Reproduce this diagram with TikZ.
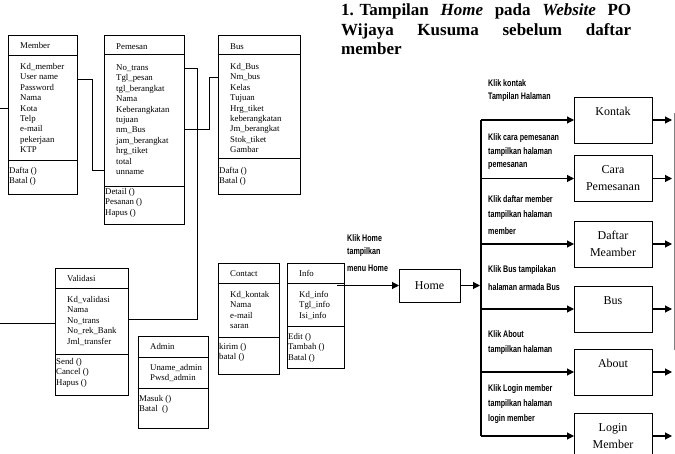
\documentclass[tikz,border=0pt]{standalone}
\usepackage{fontspec}
\usepackage{graphicx}
\setmainfont{Liberation Serif}
\newfontfamily\condfont{Liberation Sans}
\usetikzlibrary{arrows.meta,calc}

\newcommand\cl[1]{\scalebox{0.75}[1]{#1}}

\tikzset{
  classbox/.style={draw, line width=0.8pt, inner sep=0pt, outer sep=0pt},
  classline/.style={line width=0.8pt},
  classtxt/.style={inner sep=0pt, font=\fontsize{8.8}{10.4}\selectfont},
  conn/.style={line width=0.8pt},
  arr/.style={line width=1.1pt, -{Triangle[length=7pt,width=7pt]}},
  pagebox/.style={draw, line width=0.9pt, minimum width=78pt, minimum height=46pt, inner sep=0pt, outer sep=0pt, align=center, font=\fontsize{12}{17}\selectfont},
  lbl/.style={anchor=west, inner sep=0pt, font=\condfont\bfseries\fontsize{9.5}{11}\selectfont},
  ttl/.style={anchor=base west, inner sep=0pt, font=\bfseries\fontsize{17}{20}\selectfont}
}

\newcommand\umlframe[7]{%
  \def\un{#1}\def\ul{#2}%
  \node[classbox, minimum width={#4pt-#2pt}, minimum height={#5pt-#3pt}, anchor=north west] (#1) at (#2,#3) {};
  \draw[classline] (#2,#6) -- (#4,#6);
  \draw[classline] (#2,#7) -- (#4,#7);
}
\newcommand\umltext[6]{%
  \node[classtxt, anchor=base west] (\un-t) at (\ul+12, #1+2.5) {#4};
  \foreach \t [count=\i from 0] in {#5}
    \node[classtxt, anchor=base west] (\un-a\i) at (\ul+12, #2+2.5+\i*10.4) {\t};
  \foreach \t [count=\i from 0] in {#6}
    \node[classtxt, anchor=base west] (\un-m\i) at (\ul+1, #3+2.5+\i*10.4) {\t};
}

\begin{document}
\begin{tikzpicture}[x=1pt,y=-1pt]
\useasboundingbox (0,0) rectangle (675,454);

% ---------- Title ----------
\node[ttl] (t1) at (341,16) {\makebox[290pt][s]{\mbox{1. Tampilan} \textit{Home} pada \textit{Website} PO}};
\node[ttl] (t2) at (341,36) {\makebox[290pt][s]{Wijaya Kusuma sebelum daftar}};
\node[ttl] (t3) at (341,55) {member};

% ---------- Classes ----------
\umlframe{member}{8}{35}{77}{194}{55}{160}
\umltext{46}{67}{171}{Member}{Kd\_member,User name,Password,Nama,Kota,Telp,e-mail,pekerjaan,KTP}{Dafta (),Batal ()}

\umlframe{pemesan}{104}{35}{184}{224}{54}{186}
\umltext{47}{68}{192}{Pemesan}{No\_trans,Tgl\_pesan,tgl\_berangkat,Nama,Keberangkatan,tujuan,nm\_Bus,jam\_berangkat,hrg\_tiket,total,unname}{Detail (),Pesanan (),Hapus ()}

\umlframe{bus}{218}{35}{300}{194}{54}{158}
\umltext{47}{67}{171}{Bus}{Kd\_Bus,Nm\_bus,Kelas,Tujuan,Hrg\_tiket,keberangkatan,Jm\_berangkat,Stok\_tiket,Gambar}{Dafta (),Batal ()}

\umlframe{validasi}{55}{268}{128}{395}{288}{354}
\umltext{279}{300}{362}{Validasi}{Kd\_validasi,Nama,No\_trans,No\_rek\_Bank,Jml\_transfer}{Send (),Cancel (),Hapus ()}

\umlframe{admin}{138}{336}{208}{428}{357}{388}
\umltext{347}{368}{399}{Admin}{Uname\_admin,Pwsd\_admin}{Masuk (),Batal~~()}

\umlframe{contact}{218}{263}{279}{374}{283}{337}
\umltext{274}{295}{347}{Contact}{Kd\_kontak,Nama,e-mail,saran}{kirim (),batal ()}

\umlframe{info}{287}{263}{344}{368}{283}{326}
\umltext{274}{295}{337}{Info}{Kd\_info,Tgl\_info,Isi\_info}{Edit (),Tambah (),Batal ()}

% ---------- Class connectors ----------
\coordinate (lm) at (0,108);
\coordinate (lv) at (0,323);
\draw[conn] (lm) -- (member.west |- lm);
\draw[conn] (lv) -- (validasi.west |- lv);
\draw[conn] (member.east |- 0,79) -- (92,79) -- (92,170) -- (pemesan.west |- 0,170);
\draw[conn] (pemesan.east |- 0,129) -- (209,129) -- (209,77) -- (bus.west |- 0,77);
\draw[conn] (pemesan.east |- 0,68) -- (197,68) -- (197,319) -- (validasi.east |- 0,319);

% ---------- Navigation ----------
\node[pagebox, minimum width=61pt, minimum height=33pt] (home) at (429.5,285.5) {Home};
\coordinate (ih) at (337,285.5);
\draw[arr] (ih) -- (home.west);
\coordinate (hr) at (480,285.5);
\draw[arr] (home.east) -- (hr);

\node[lbl] (lh1) at (347,238) {\cl{Klik Home}};
\node[lbl] (lh2) at (347,252) {\cl{tampilkan}};
\node[lbl] (lh3) at (347,268) {\cl{menu Home}};

\node[pagebox] (kontak) at (613,120) {Kontak\\\phantom{K}};
\node[pagebox] (cara) at (613,178.5) {Cara\\Pemesanan};
\node[pagebox] (daftar) at (613,244) {Daftar\\Meamber};
\node[pagebox] (pbus) at (613,309) {Bus\\\phantom{B}};
\node[pagebox] (about) at (613,372) {About\\\phantom{A}};
\node[pagebox] (login) at (613,436) {Login\\Member};

\coordinate (vtop) at (481,120);
\coordinate (vbot) at (481,436);
\draw[line width=1.1pt] (vtop) -- (vbot);
\foreach \b in {kontak,cara,daftar,pbus,about,login}{
  \draw[arr] (vtop |- \b.west) -- (\b.west);
  \draw[arr] (\b.east) -- ++(20,0);
}
\coordinate (rtop) at (674,113);
\coordinate (rbot) at (674,350);
\draw[gray, line width=0.6pt] (rtop) -- (rbot);

\node[lbl] (k1) at (488,83) {\cl{Klik kontak}};
\node[lbl] (k2) at (488,97) {\cl{Tampilan Halaman}};
\node[lbl] (c1) at (488,138) {\cl{Klik cara pemesanan}};
\node[lbl] (c2) at (488,152) {\cl{tampilkan halaman}};
\node[lbl] (c3) at (488,166) {\cl{pemesanan}};
\node[lbl] (d1) at (488,199) {\cl{Klik daftar member}};
\node[lbl] (d2) at (488,215) {\cl{tampilkan halaman}};
\node[lbl] (d3) at (488,231) {\cl{member}};
\node[lbl] (b1) at (488,270) {\cl{Klik Bus tampilakan}};
\node[lbl] (b2) at (488,287) {\cl{halaman armada Bus}};
\node[lbl] (a1) at (488,334) {\cl{Klik About}};
\node[lbl] (a2) at (488,350) {\cl{tampilkan halaman}};
\node[lbl] (g1) at (488,389) {\cl{Klik Login member}};
\node[lbl] (g2) at (488,404) {\cl{tampilkan halaman}};
\node[lbl] (g3) at (488,419) {\cl{login member}};
\end{tikzpicture}
\end{document}
